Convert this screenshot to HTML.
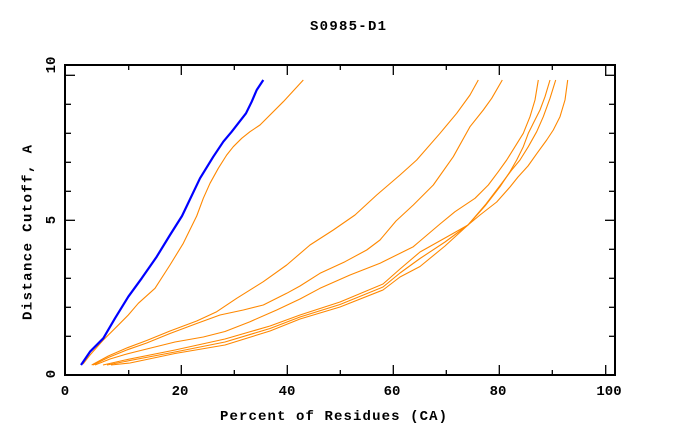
<!DOCTYPE html>
<html>
<head>
<meta charset="utf-8">
<style>
  html,body{margin:0;padding:0;background:#fff;}
  svg{display:block;}
  text{font-family:"Liberation Mono","DejaVu Sans Mono",monospace;font-weight:bold;fill:#000;}
</style>
</head>
<body>
<svg width="680" height="440" viewBox="0 0 680 440" xmlns="http://www.w3.org/2000/svg">
  <rect x="0" y="0" width="680" height="440" fill="#fff"/>

  <!-- title -->
  <text x="310" y="30" font-size="14" textLength="76" lengthAdjust="spacing">S0985-D1</text>

  <!-- axis box -->
  <rect x="65" y="65" width="550" height="310" fill="none" stroke="#000" stroke-width="2"/>

  <!-- x ticks bottom & top -->
  <g stroke="#000" stroke-width="1.3">
    <line x1="128.7" y1="375" x2="128.7" y2="370"/>
    <line x1="181.3" y1="375" x2="181.3" y2="365"/>
    <line x1="234.3" y1="375" x2="234.3" y2="370"/>
    <line x1="287.3" y1="375" x2="287.3" y2="365"/>
    <line x1="340.3" y1="375" x2="340.3" y2="370"/>
    <line x1="393.3" y1="375" x2="393.3" y2="365"/>
    <line x1="446.3" y1="375" x2="446.3" y2="370"/>
    <line x1="499.3" y1="375" x2="499.3" y2="365"/>
    <line x1="552.3" y1="375" x2="552.3" y2="370"/>
    <line x1="605.7" y1="375" x2="605.7" y2="365"/>

    <line x1="128.7" y1="65" x2="128.7" y2="70"/>
    <line x1="181.3" y1="65" x2="181.3" y2="75"/>
    <line x1="234.3" y1="65" x2="234.3" y2="70"/>
    <line x1="287.3" y1="65" x2="287.3" y2="75"/>
    <line x1="340.3" y1="65" x2="340.3" y2="70"/>
    <line x1="393.3" y1="65" x2="393.3" y2="75"/>
    <line x1="446.3" y1="65" x2="446.3" y2="70"/>
    <line x1="499.3" y1="65" x2="499.3" y2="75"/>
    <line x1="552.3" y1="65" x2="552.3" y2="70"/>
    <line x1="605.7" y1="65" x2="605.7" y2="75"/>

    <!-- y ticks left -->
    <line x1="65" y1="75.3" x2="75" y2="75.3"/>
    <line x1="65" y1="104.3" x2="71" y2="104.3"/>
    <line x1="65" y1="133.3" x2="71" y2="133.3"/>
    <line x1="65" y1="162.3" x2="71" y2="162.3"/>
    <line x1="65" y1="191.3" x2="71" y2="191.3"/>
    <line x1="65" y1="220.3" x2="75" y2="220.3"/>
    <line x1="65" y1="249.3" x2="71" y2="249.3"/>
    <line x1="65" y1="278.3" x2="71" y2="278.3"/>
    <line x1="65" y1="307.3" x2="71" y2="307.3"/>
    <line x1="65" y1="336.3" x2="71" y2="336.3"/>

    <!-- y ticks right -->
    <line x1="615" y1="75.3" x2="605" y2="75.3"/>
    <line x1="615" y1="104.3" x2="609" y2="104.3"/>
    <line x1="615" y1="133.3" x2="609" y2="133.3"/>
    <line x1="615" y1="162.3" x2="609" y2="162.3"/>
    <line x1="615" y1="191.3" x2="609" y2="191.3"/>
    <line x1="615" y1="220.3" x2="605" y2="220.3"/>
    <line x1="615" y1="249.3" x2="609" y2="249.3"/>
    <line x1="615" y1="278.3" x2="609" y2="278.3"/>
    <line x1="615" y1="307.3" x2="609" y2="307.3"/>
    <line x1="615" y1="336.3" x2="609" y2="336.3"/>
  </g>

  <!-- x tick labels -->
  <g font-size="14" text-anchor="middle">
    <text x="65" y="395">0</text>
    <text x="180" y="395">20</text>
    <text x="287" y="395">40</text>
    <text x="392" y="395">60</text>
    <text x="498" y="395">80</text>
    <text x="609" y="395">100</text>
  </g>

  <!-- y tick labels (rotated) -->
  <g font-size="14" text-anchor="middle">
    <text transform="translate(55,65) rotate(-90)">10</text>
    <text transform="translate(55,220) rotate(-90)">5</text>
    <text transform="translate(55,374) rotate(-90)">0</text>
  </g>

  <!-- axis labels -->
  <text x="220" y="420" font-size="14" textLength="227" lengthAdjust="spacing">Percent of Residues (CA)</text>
  <text transform="translate(31.5,320) rotate(-90)" font-size="14" textLength="175" lengthAdjust="spacing">Distance Cutoff, A</text>

  <!-- orange curves -->
  <g fill="none" stroke="#ff8800" stroke-width="1.1" stroke-linejoin="round">
    <polyline points="83,364 90,355 103.3,340 116.7,326.7 128.3,315 138.3,303.3 155,288.3 170,265 183.3,243.3 196.7,216 203.3,198.3 210,183.3 218.3,168.3 226.7,155 233.3,146.7 241.7,138.3 250,131.7 260,125 283.3,101.7 303.3,80"/>
    <polyline points="91.7,365 108.3,356 126.7,348 146.7,340.5 170,331 196.7,321 216.7,311.7 236.7,298.3 263.3,281.7 286.7,265 310,245 333.3,230 355,215 376.7,195 400,175 416.7,160 440,133.3 456.7,113.3 470,95 478.3,80"/>
    <polyline points="93,365 108.3,357.5 126.7,350 146.7,343 170,333.5 196.7,323.5 220,315 243.3,310 263.3,305 286.7,293.3 300,286 320,273.3 345,261.7 366.7,250 380,240 396,221 413.3,205 433.3,185 453.3,156.7 470,126.7 483.3,110 491.7,98.3 502.3,80"/>
    <polyline points="95,365 110,359 125,354.5 136.7,351.5 175,342 203.3,337 225,331.5 250,321.7 276.7,310 300,299 320,288.3 350,275 380,263.3 413.3,246.7 420,241 440,224 455,211.7 475,198.3 488.3,185 498.3,171.7 506.7,160 515,146.7 523.3,133.3 530,116.7 535,100 538.3,80"/>
    <polyline points="103,365 125,360 175,350 225,339 270,326 300,315 340,302 383,284 400,269 420,252 445,238 468,225 485,206 500,186.7 510,171.7 516.7,160 523.3,146.7 528.3,133.3 533.3,123.3 540,110 545,96.7 550,80"/>
    <polyline points="107,365 125,361.5 175,352 225,342 270,328.5 300,317 340,304.5 383,287 400,273 420,258.5 445,242 468,225 486,204 501.7,183.3 511.7,170 520,160 528.3,146.7 536.7,131.7 543.3,116.7 550,98.3 555.7,80"/>
    <polyline points="111,365 130,363 175,353.5 225,345 270,331 300,319 340,307 383,290 400,277 420,266.5 445,246 468,225 480,215 496.7,202 510,187 518,177 528,166 537,153.3 546.7,140 553.3,130 560,116.7 565,100 567.7,80"/>
  </g>

  <!-- blue curve -->
  <polyline fill="none" stroke="#0000ff" stroke-width="2.2" stroke-linejoin="round"
    points="81,365 90,351.7 103.3,338.3 115,318.3 128.3,296.7 141.7,278.3 156.7,256.7 170,235 182,216 196,186.7 200,178.3 213.3,156.7 223.3,141.7 231.7,131.7 246,113.3 251.7,101.7 256.7,90 263.3,80"/>
</svg>
</body>
</html>
